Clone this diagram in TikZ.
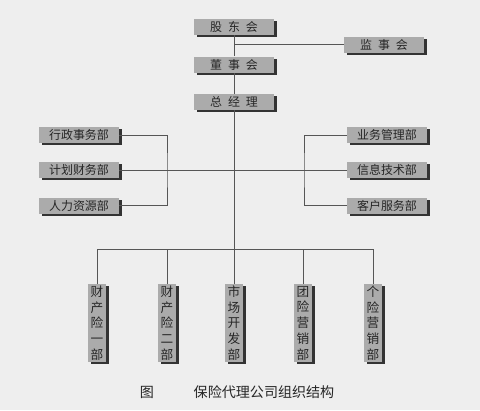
\documentclass[tikz,border=0pt]{standalone}
\usepackage{fontspec}
\setmainfont{Noto Sans CJK SC}
\usepackage{xcolor}
\usepackage{tikz}
\usetikzlibrary{positioning,shadows}
\definecolor{boxgray}{HTML}{ABABAB}
\definecolor{paper}{HTML}{EEEEEE}
\definecolor{linegray}{HTML}{555555}

\begin{document}
\begin{tikzpicture}[x=0.025cm,y=-0.025cm,
  every node/.style={font=\fontsize{8.5}{10}\selectfont,text=black!85},
  orgbox/.style={fill=boxgray,minimum width=2cm,minimum height=0.4cm,inner sep=0pt,
    drop shadow={shadow xshift=0.07cm,shadow yshift=-0.05cm,fill=black!80,opacity=1}},
  deptbox/.style={orgbox,minimum width=0.45cm,minimum height=1.95cm,align=center,
    font=\fontsize{9}{11.2}\selectfont},
  link/.style={draw=linegray,line width=0.6pt}]
  \useasboundingbox[fill=paper] (0,0) rectangle (480,410);
  % Top column
  \node[orgbox] (gdh) at (234,27) {股\hspace{0.5em}东\hspace{0.5em}会};
  \node[orgbox,below=0.525cm of gdh] (dsh) {董\hspace{0.5em}事\hspace{0.5em}会};
  \node[orgbox,below=0.525cm of dsh] (zjl) {总\hspace{0.5em}经\hspace{0.5em}理};
  \node[orgbox] (jsh) at (384,44.5) {监\hspace{0.5em}事\hspace{0.5em}会};
  % Left and right offices
  \node[orgbox] (xzsw) at (79,135) {行政事务部};
  \node[orgbox,below=0.47cm of xzsw] (jhcw) {计划财务部};
  \node[orgbox,below=0.47cm of jhcw] (rlzy) {人力资源部};
  \node[orgbox] (ywgl) at (387,135) {业务管理部};
  \node[orgbox,below=0.47cm of ywgl] (xxjs) {信息技术部};
  \node[orgbox,below=0.47cm of xxjs] (khfw) {客户服务部};
  \coordinate (lbar) at (167,170);
  \coordinate (rbar) at (304,170);
  \coordinate (bus) at (234,249);

  \draw[link] (gdh.south) -- (dsh.north);
  \draw[link] (dsh.south) -- (zjl.north);
  \draw[link] (zjl.south) -- (bus);
  \draw[link] (gdh.south |- jsh.west) -- (jsh.west);
  \draw[link] (jhcw.east) -- (xxjs.west);
  \draw[link] (xzsw.east) -| (lbar) |- (rlzy.east);
  \draw[link] (ywgl.west) -| (rbar) |- (khfw.west);
  % Business departments
  \foreach \x/\name/\txt in {97/cxy/{财\\产\\险\\一\\部},167/cxe/{财\\产\\险\\二\\部},
      234/sckf/{市\\场\\开\\发\\部},303/tyx/{团\\险\\营\\销\\部},373/gyx/{个\\险\\营\\销\\部}}{
    \node[deptbox] (\name) at (\x,323) {\txt};
    \draw[link] (bus) -| (\name.north);
  }
  % Caption
  \node[font=\fontsize{10}{12}\selectfont] (fig) at (147,392) {图};
  \node[font=\fontsize{10}{12}\selectfont] (title) at (264,392) {保险代理公司组织结构};
\end{tikzpicture}
\end{document}
